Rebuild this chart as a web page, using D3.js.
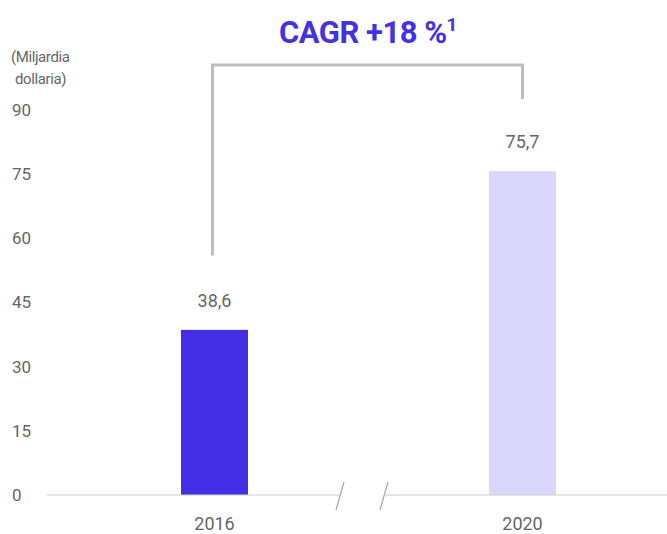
<!DOCTYPE html>
<html>
<head>
<meta charset="utf-8">
<script src="https://cdn.jsdelivr.net/npm/d3@7"></script>
<style>
  body { margin: 0; background: #fff; }
  svg { display: block; font-family: Roboto, "Liberation Sans", sans-serif; }
</style>
</head>
<body>
<div id="canvas"></div>
<script>
// DATA ========================================================================

var YEARS = ["2016", "2020"]

var VALUES = [38.6, 75.7]

var VALUE_LABELS = ["38,6", "75,7"]

var Y_TICKS = [0, 15, 30, 45, 60, 75, 90]

var BAR_COLORS = ["#432ee6", "#dbd6fb"]

var TITLE = "CAGR +18 %"

var UNIT_LABEL = ["(Miljardia", "dollaria)"]

// SETTINGS ====================================================================

var WIDTH = 667
var HEIGHT = 534
var BAR_WIDTH = 67

function translate(x, y) {
    return "translate(" + x + "," + y + ")"
}

// CHART =======================================================================

var svg = d3.select("#canvas").append("svg")
    .attr("width", WIDTH)
    .attr("height", HEIGHT)

var x = d3.scalePoint().domain(YEARS).range([214.5, 522.5])
var y = d3.scaleLinear().domain([0, 90]).range([495, 110])

// Y axis tick labels (no axis line).
var yAxis = svg.append("g")
    .attr("transform", translate(41, 0))
    .call(d3.axisLeft(y).tickValues(Y_TICKS).tickSize(0).tickPadding(0))
yAxis.select(".domain").remove()
yAxis.selectAll("text")
    .attr("font-family", "Roboto, sans-serif")
    .attr("font-size", 17)
    .attr("fill", "#666")
    .attr("x", -29)
    .attr("text-anchor", "start")

// Unit label.
svg.append("text")
    .attr("font-size", 15)
    .attr("fill", "#666")
    .attr("letter-spacing", -0.4)
    .selectAll("tspan")
    .data(UNIT_LABEL).enter()
    .append("tspan")
        .attr("x", d => d === UNIT_LABEL[0] ? 11 : 15)
        .attr("y", (d, i) => 62 + i * 22)
        .text(d => d)

// Bars.
svg.selectAll("rect.bar")
    .data(VALUES).enter()
    .append("rect")
        .attr("class", "bar")
        .attr("x", (d, i) => x(YEARS[i]) - BAR_WIDTH/2)
        .attr("y", d => y(d))
        .attr("width", BAR_WIDTH)
        .attr("height", d => y(0) - y(d))
        .attr("fill", (d, i) => BAR_COLORS[i])

// Value labels.
svg.selectAll("text.value")
    .data(VALUES).enter()
    .append("text")
        .attr("class", "value")
        .attr("x", (d, i) => x(YEARS[i]))
        .attr("y", d => y(d) - 23)
        .attr("text-anchor", "middle")
        .attr("font-size", 18)
        .attr("fill", "#666")
        .text((d, i) => VALUE_LABELS[i])

// Baseline with axis break.
var breakL = 340, breakR = 384
var base = svg.append("g").attr("stroke", "#c8cfc8").attr("stroke-width", 1.2)
base.append("line").attr("x1", 47).attr("x2", breakL).attr("y1", y(0)).attr("y2", y(0))
base.append("line").attr("x1", breakR).attr("x2", WIDTH).attr("y1", y(0)).attr("y2", y(0))
var slash = svg.append("g").attr("stroke", "#aaa").attr("stroke-width", 1.3)
;[breakL, breakR].forEach(function(bx) {
    slash.append("line")
        .attr("x1", bx - 4).attr("y1", y(0) + 15)
        .attr("x2", bx + 4).attr("y2", y(0) - 13)
})

// Year labels.
svg.selectAll("text.year")
    .data(YEARS).enter()
    .append("text")
        .attr("class", "year")
        .attr("x", d => x(d))
        .attr("y", 530)
        .attr("text-anchor", "middle")
        .attr("font-size", 18)
        .attr("fill", "#666")
        .text(d => d)

// CAGR bracket.
svg.append("path")
    .attr("d", "M" + (x(YEARS[0]) - 2) + "," + y(56) + "V65H" + x(YEARS[1]) + "V" + y(92.5))
    .attr("fill", "none")
    .attr("stroke", "#bdbdbd")
    .attr("stroke-width", 3)

// Title.
var title = svg.append("text")
    .attr("x", 368)
    .attr("y", 43)
    .attr("text-anchor", "middle")
    .attr("font-size", 31)
    .attr("font-weight", "bold")
    .attr("fill", "#4331e2")
    .attr("letter-spacing", -0.5)
    .text(TITLE)
title.append("tspan")
    .attr("dy", -12)
    .attr("font-size", 19)
    .text("1")
</script>
</body>
</html>
